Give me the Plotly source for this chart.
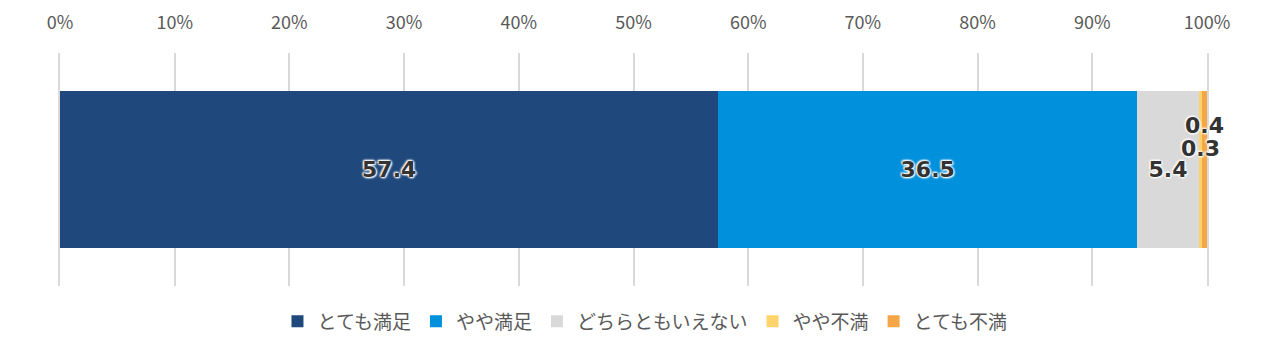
import plotly.graph_objects as go

categories = ["全体"]
series_names = ["とても満足", "やや満足", "どちらともいえない", "やや不満", "とても不満"]
values = [57.4, 36.5, 5.4, 0.3, 0.4]
colors = ["#1F497D", "#0090DC", "#D9D9D9", "#FFD36B", "#F5A646"]
tick_vals = list(range(0, 101, 10))
tick_text = [f"{v}%" for v in tick_vals]

FONT = "Noto Sans CJK JP"
LABEL_FONT = "DejaVu Sans"
SHADOW = "0 0 2px #fff, 0 0 2px #fff, 0 0 3px #fff, 1px 1px 2px #fff, -1px -1px 2px #fff"

fig = go.Figure()
inside_labels = [True, True, True, False, False]
for name, v, c, show in zip(series_names, values, colors, inside_labels):
    fig.add_trace(go.Bar(
        y=categories, x=[v], name=name, orientation="h",
        marker=dict(color=c, line=dict(width=0)),
        text=[f"{v:.1f}"] if show else None,
        textposition="inside" if show else "none",
        insidetextanchor="middle",
        constraintext="none",
        textfont=dict(family=LABEL_FONT, size=22, color="#333333", weight="bold", shadow=SHADOW),
        hoverinfo="skip",
    ))

# labels for the small segments, placed above their segments
cum = 0
annotations = []
for i, v in enumerate(values):
    center = cum + v / 2
    cum += v
    if not inside_labels[i]:
        shift = 21 if i == 3 else 44
        annotations.append(dict(
            x=center, y=categories[0], xref="x", yref="y", text=f"{v:.1f}",
            showarrow=False, yshift=shift,
            font=dict(family=LABEL_FONT, size=22, color="#333333", weight="bold", shadow=SHADOW),
        ))

fig.update_layout(
    width=1280, height=351,
    margin=dict(l=60, r=73, t=53, b=65, autoexpand=False),
    paper_bgcolor="white", plot_bgcolor="white",
    barmode="stack", bargap=0.33,
    font=dict(family=FONT, color="#595959"),
    showlegend=True,
    legend=dict(orientation="h", x=0.51, xanchor="center", y=-0.07, yanchor="top",
                font=dict(family=FONT, size=19, color="#595959"),
                traceorder="normal", itemwidth=30),
    xaxis=dict(side="top", range=[0, 100], tickvals=tick_vals, ticktext=tick_text,
               showgrid=True, gridcolor="#D9D9D9", gridwidth=1.5, zeroline=False,
               showline=False, ticks="outside", ticklen=16, tickcolor="rgba(0,0,0,0)",
               tickfont=dict(family=FONT, size=18, color="#595959"), fixedrange=True),
    yaxis=dict(visible=True, showticklabels=False, showgrid=False, zeroline=False,
               ticks="", showline=True, mirror=True, linecolor="#D9D9D9", linewidth=1.5,
               layer="below traces", range=[-0.5, 0.5], fixedrange=True),
    annotations=annotations,
)

fig.write_html("out.html")
